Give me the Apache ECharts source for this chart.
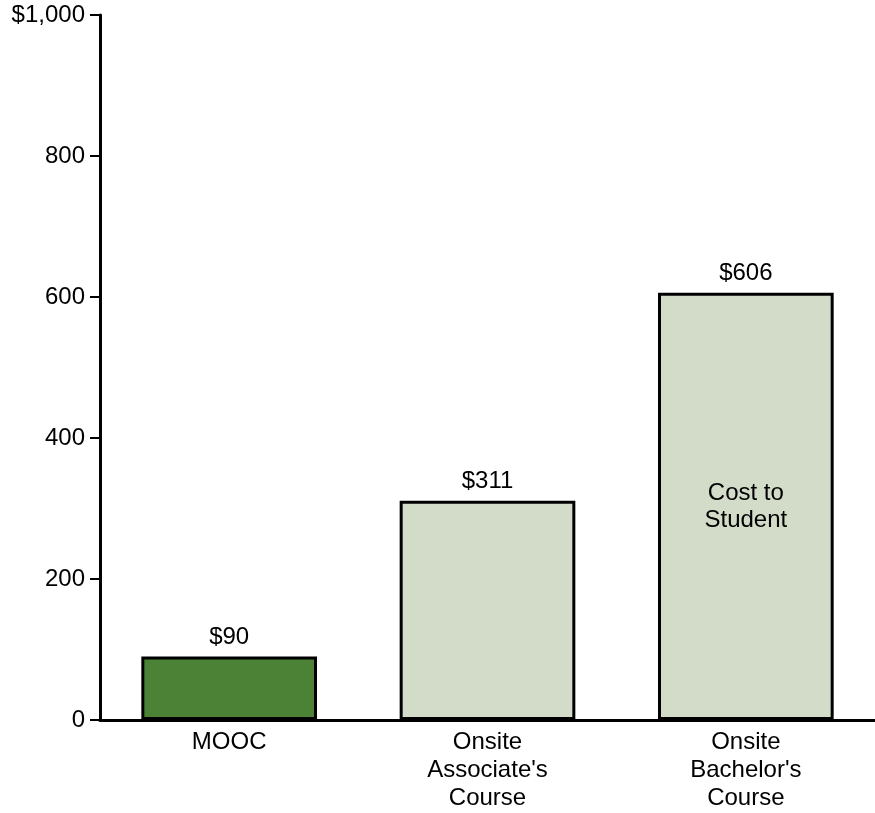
<!DOCTYPE html>
<html>
<head>
<meta charset="utf-8">
<script src="https://cdn.jsdelivr.net/npm/echarts@6/dist/echarts.min.js"></script>
<style>
  html, body { margin: 0; padding: 0; background: #fff; }
  #chart { width: 875px; height: 813px; }
</style>
</head>
<body>
<div id="chart"></div>
<script>
// Course cost per student
const categories = ['MOOC', "Onsite\nAssociate's\nCourse", "Onsite\nBachelor's\nCourse"];
const costValues = [90, 311, 606];
const barColors = ['#4b8236', '#d3dcc8', '#d3dcc8'];
const yTickLabels = { 0: '0', 200: '200', 400: '400', 600: '600', 800: '800', 1000: '$1,000' };
const innerNote = ['', '', 'Cost to\nStudent'];

const font = 'Liberation Sans, Arial, sans-serif';
const chart = echarts.init(document.getElementById('chart'));

chart.setOption({
  animation: false,
  grid: { left: 100, right: 0, top: 15, bottom: 93 },
  xAxis: {
    type: 'category',
    data: categories,
    axisLine: { lineStyle: { color: '#000', width: 3 } },
    axisTick: { show: false },
    axisLabel: {
      color: '#000', fontFamily: font, fontSize: 24, lineHeight: 28, margin: 8
    }
  },
  yAxis: {
    type: 'value',
    min: 0, max: 1000, interval: 200,
    splitLine: { show: false },
    axisLine: { show: true, lineStyle: { color: '#000', width: 3 } },
    axisTick: { show: true, length: 10, lineStyle: { color: '#000', width: 2 } },
    axisLabel: {
      color: '#000', fontFamily: font, fontSize: 24, margin: 15,
      formatter: v => yTickLabels[v]
    }
  },
  series: [
    {
      type: 'bar',
      barWidth: '68%',
      data: costValues.map((v, i) => ({
        value: v,
        itemStyle: { color: barColors[i], borderColor: '#000', borderWidth: 3 }
      })),
      label: {
        show: true, position: 'top', distance: 7,
        color: '#000', fontFamily: font, fontSize: 24,
        formatter: p => '$' + p.value
      }
    },
    {
      type: 'bar',
      barWidth: '68%',
      barGap: '-100%',
      silent: true,
      data: costValues,
      itemStyle: { color: 'rgba(0,0,0,0)' },
      label: {
        show: true, position: 'inside',
        color: '#000', fontFamily: font, fontSize: 24, lineHeight: 27,
        formatter: p => innerNote[p.dataIndex]
      }
    }
  ]
});
</script>
</body>
</html>
